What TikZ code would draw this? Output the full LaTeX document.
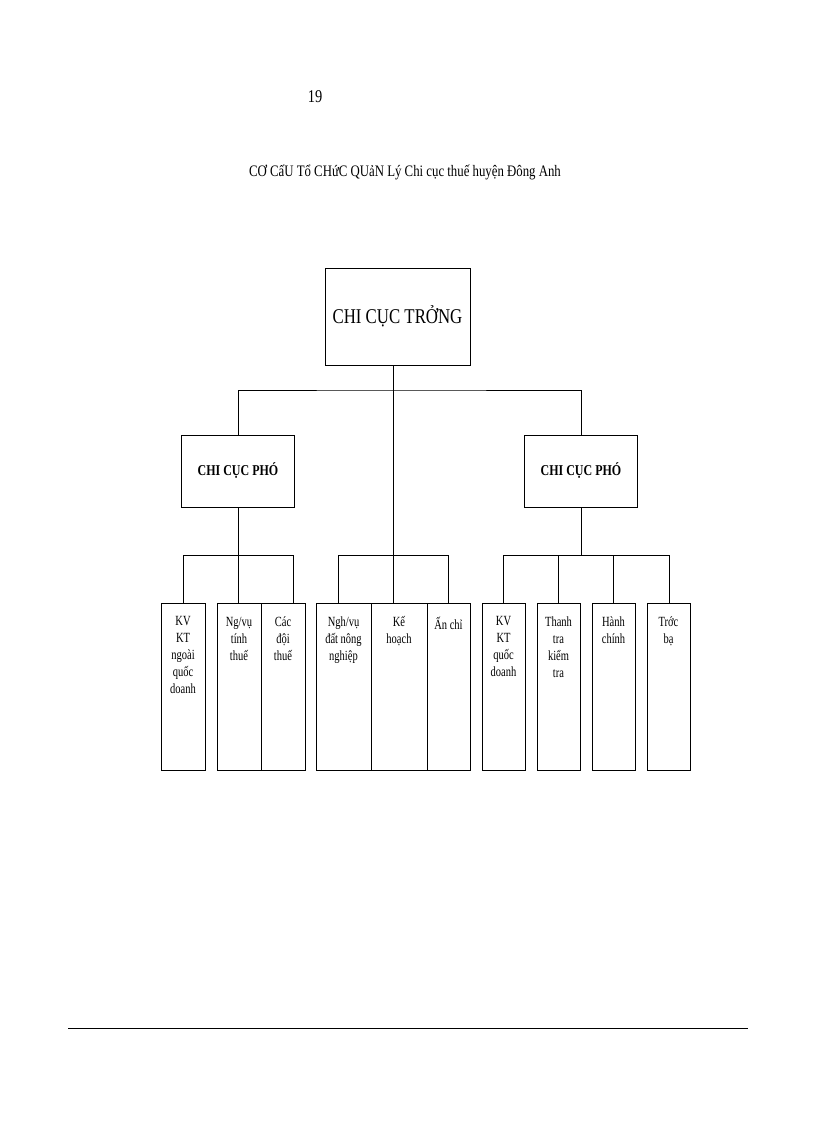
\documentclass[tikz,border=0pt]{standalone}
\usepackage{fontspec}
\setmainfont{Liberation Serif}
\begin{document}
\begin{tikzpicture}[x=1pt,y=-1pt,line width=0.9pt,
 bx/.style={draw,inner sep=0pt},
 lab/.style={anchor=north,align=center,font=\fontsize{14}{17}\selectfont\addfontfeature{FakeStretch=0.75}}]
\useasboundingbox (0,0) rectangle (816,1123);
\node at (315,97) {\fontsize{18}{18}\selectfont\addfontfeature{FakeStretch=0.8}19};
\node at (405,172) {\fontsize{16}{17}\selectfont\addfontfeature{FakeStretch=0.8}CƠ CấU Tổ CHứC QUảN Lý Chi cục thuế huyện Đông Anh};
\node[bx,minimum width=145pt,minimum height=97pt] (top) at (397.5,316.5) {\fontsize{21}{22}\selectfont\addfontfeature{FakeStretch=0.8}CHI CỤC TRỞNG};
\node[bx,minimum width=113pt,minimum height=72pt] (vl) at (238,471) {\fontsize{15}{17}\selectfont\bfseries\addfontfeature{FakeStretch=0.8}CHI CỤC PHÓ};
\node[bx,minimum width=113pt,minimum height=72pt] (vr) at (581,471) {\fontsize{15}{17}\selectfont\bfseries\addfontfeature{FakeStretch=0.8}CHI CỤC PHÓ};
\coordinate (j) at (393,390);
\draw (top.south -| j) -- (393,603);
\draw (vl.north) |- (j) -| (vr.north);
\draw (vl.south) -- (238,555);
\draw (vr.south) -- (581,555);
\foreach \n/\a/\b in {b1/161/205,b2/217/261,b3/261/305,b4/316/371,b5/371/427,b6/427/470,b7/482/525,b8/537/580,b9/592/635,b10/647/690}{
 \draw (\a,603) rectangle (\b,770);
 \coordinate (\n) at ({(\a+\b)/2},603);
}
\draw (183,555) -- (293,555) (183,555)--(183,603) (238,555)--(238,603) (293,555)--(293,603);
\draw (338,555) -- (448,555) (338,555)--(338,603) (448,555)--(448,603);
\draw (503,555) -- (669,555);
\foreach \x in {503,558,613,669} \draw (\x,555)--(\x,603);
\node[lab] at ([yshift=-10pt]b1) {KV\\KT\\ngoài\\quốc\\doanh};
\node[lab] at ([yshift=-10pt]b2) {Ng/vụ\\tính\\thuế};
\node[lab] at ([yshift=-10pt]b3) {Các\\đội\\thuế};
\node[lab] at ([yshift=-10pt]b4) {Ngh/vụ\\đất nông\\nghiệp};
\node[lab] at ([yshift=-10pt]b5) {Kế\\hoạch};
\node[lab] at ([yshift=-10pt]b6) {Ấn chỉ};
\node[lab] at ([yshift=-10pt]b7) {KV\\KT\\quốc\\doanh};
\node[lab] at ([yshift=-10pt]b8) {Thanh\\tra\\kiểm\\tra};
\node[lab] at ([yshift=-10pt]b9) {Hành\\chính};
\node[lab] at ([yshift=-10pt]b10) {Trớc\\bạ};
\draw (68,1028) -- (748,1028);
\end{tikzpicture}
\end{document}
